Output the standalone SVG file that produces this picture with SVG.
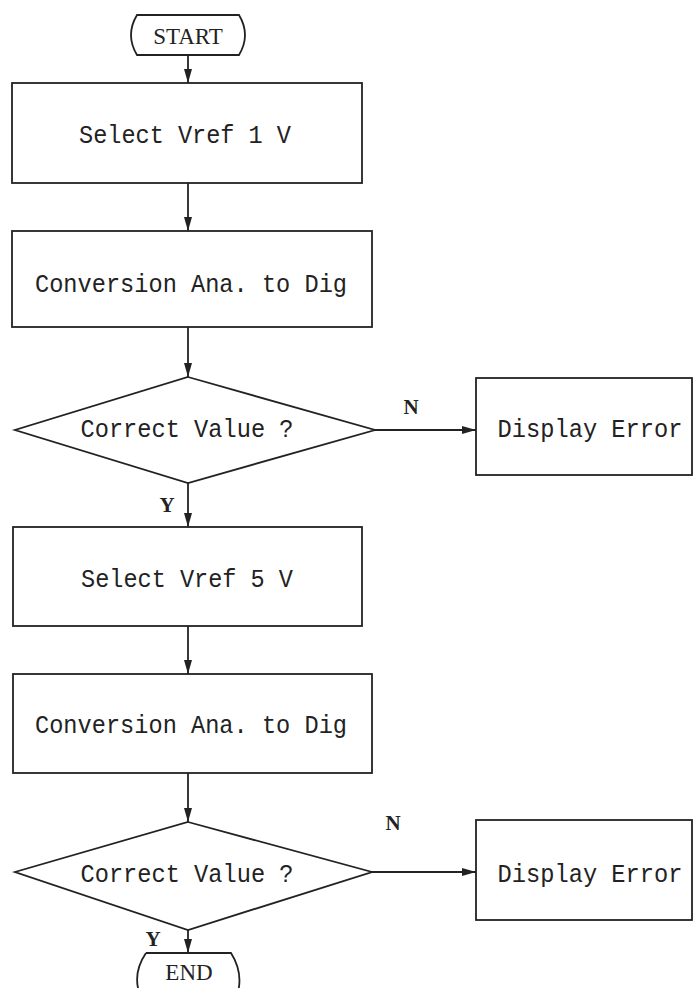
<svg xmlns="http://www.w3.org/2000/svg" width="697" height="988" viewBox="0 0 697 988">
<style>
.s{fill:none;stroke:#222;stroke-width:1.8}
.t{font-family:"Liberation Mono","DejaVu Sans Mono",monospace;font-size:25px;fill:#222;text-anchor:middle}
.tt{font-family:"Liberation Serif","DejaVu Serif",serif;font-size:23px;fill:#222;text-anchor:middle}
.l{font-family:"Liberation Serif","DejaVu Serif",serif;font-size:21px;font-weight:bold;fill:#222;text-anchor:middle}
.c{fill:none;stroke:#222;stroke-width:1.8}
</style>
<defs>
<marker id="a" viewBox="0 0 14 9" refX="14" refY="4.5" markerWidth="14" markerHeight="9" markerUnits="userSpaceOnUse" orient="auto">
<path d="M0,0.5 L14,4.5 L0,8.5 Z" fill="#222"/>
</marker>
</defs>
<rect width="697" height="988" fill="#fff"/>
<g id="start">
<path class="s" d="M137,15 H239 Q251,35 239,55 H137 Q125,35 137,15 Z"/>
<text class="tt" x="188" y="44">START</text>
</g>
<g id="vref1">
<rect class="s" x="12" y="83" width="350" height="100"/>
<text class="t" x="185" y="143" textLength="212" lengthAdjust="spacingAndGlyphs">Select Vref 1 V</text>
</g>
<g id="conv1">
<rect class="s" x="12" y="231" width="360" height="96"/>
<text class="t" x="191" y="292" textLength="312" lengthAdjust="spacingAndGlyphs">Conversion Ana. to Dig</text>
</g>
<g id="dec1">
<path class="s" d="M188,377 L375,430 L188,483 L15,430 Z"/>
<text class="t" x="187" y="437" textLength="213" lengthAdjust="spacingAndGlyphs">Correct Value ?</text>
</g>
<g id="err1">
<rect class="s" x="476" y="378" width="216" height="97"/>
<text class="t" x="590" y="437" textLength="185" lengthAdjust="spacingAndGlyphs">Display Error</text>
</g>
<g id="vref5">
<rect class="s" x="13" y="527" width="349" height="99"/>
<text class="t" x="187" y="587" textLength="212" lengthAdjust="spacingAndGlyphs">Select Vref 5 V</text>
</g>
<g id="conv2">
<rect class="s" x="13" y="674" width="359" height="99"/>
<text class="t" x="191" y="733" textLength="312" lengthAdjust="spacingAndGlyphs">Conversion Ana. to Dig</text>
</g>
<g id="dec2">
<path class="s" d="M188,822 L372,872 L188,930 L15,872 Z"/>
<text class="t" x="187" y="882" textLength="213" lengthAdjust="spacingAndGlyphs">Correct Value ?</text>
</g>
<g id="err2">
<rect class="s" x="476" y="820" width="216" height="100"/>
<text class="t" x="590" y="882" textLength="185" lengthAdjust="spacingAndGlyphs">Display Error</text>
</g>
<g id="end">
<path class="s" d="M146,953 H231 Q243,972 238,992 M139,992 Q133,972 146,953"/>
<text class="tt" x="189" y="980">END</text>
</g>
<g id="connectors">
<line class="c" x1="188" y1="55" x2="188" y2="83" marker-end="url(#a)"/>
<line class="c" x1="188" y1="183" x2="188" y2="231" marker-end="url(#a)"/>
<line class="c" x1="188" y1="327" x2="188" y2="377" marker-end="url(#a)"/>
<line class="c" x1="375" y1="430" x2="476" y2="430" marker-end="url(#a)"/>
<line class="c" x1="188" y1="483" x2="188" y2="527" marker-end="url(#a)"/>
<line class="c" x1="188" y1="626" x2="188" y2="674" marker-end="url(#a)"/>
<line class="c" x1="188" y1="773" x2="188" y2="822" marker-end="url(#a)"/>
<line class="c" x1="372" y1="872" x2="476" y2="872" marker-end="url(#a)"/>
<line class="c" x1="188" y1="930" x2="188" y2="953" marker-end="url(#a)"/>
<text class="l" x="411" y="414">N</text>
<text class="l" x="167" y="512">Y</text>
<text class="l" x="393" y="830">N</text>
<text class="l" x="153" y="946">Y</text>
</g>
</svg>
